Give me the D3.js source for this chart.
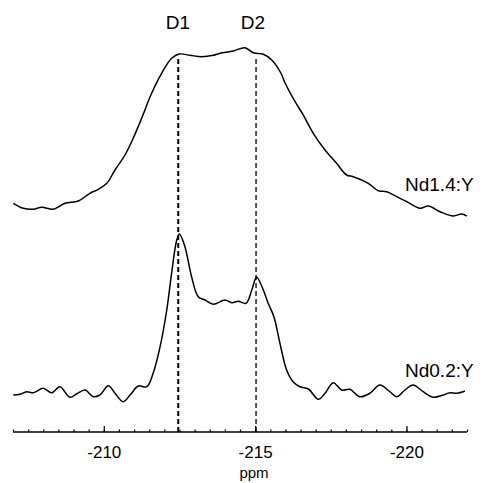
<!DOCTYPE html>
<html>
<head>
<meta charset="utf-8">
<script src="https://cdn.jsdelivr.net/npm/d3@7"></script>
<style>
  html, body { margin: 0; padding: 0; background: #fff; }
  svg { display: block; }
  text { font-family: "Liberation Sans", Arial, sans-serif; fill: #000; }
</style>
</head>
<body>
<svg id="chart" width="489" height="483"></svg>
<script>
// ---- data (ppm, intensity relative to each spectrum's baseline) ----
const ppmNd14 = [-207.01,-207.34,-207.67,-207.95,-208.33,-208.72,-209.16,-209.54,-209.82,-210.10,-210.37,-210.70,-210.97,-211.25,-211.58,-211.91,-212.24,-212.49,-212.85,-213.23,-213.62,-213.84,-214.28,-214.66,-214.94,-215.27,-215.55,-215.85,-215.99,-216.32,-216.59,-216.92,-217.31,-217.69,-218.02,-218.24,-218.74,-219.07,-219.35,-219.68,-220.01,-220.45,-220.72,-221.11,-221.55,-221.82,-221.99];
const intNd14 = [6.7,1.7,0.7,2.7,0.7,6.7,9,16.7,20.7,26.7,40,55,71.7,91.7,116.7,136.7,151.7,156,154.7,153.3,154.7,156.7,159,162.3,157.3,155.7,150,137,127,108.3,95,76.7,60,46.7,35,33.3,26.7,19.3,18.3,13.3,8.3,1.7,4,-1.7,-6,-4,-6];

const ppmNd02 = [-207.01,-207.23,-207.45,-207.67,-208.00,-208.28,-208.55,-208.88,-209.10,-209.38,-209.65,-209.87,-210.15,-210.37,-210.64,-210.87,-211.14,-211.42,-211.63,-211.86,-212.08,-212.24,-212.41,-212.50,-212.68,-212.90,-213.12,-213.34,-213.62,-214.00,-214.23,-214.44,-214.70,-214.89,-215.05,-215.27,-215.43,-215.62,-215.82,-216.04,-216.26,-216.48,-216.76,-217.09,-217.31,-217.58,-217.86,-218.13,-218.46,-218.79,-219.12,-219.45,-219.68,-219.95,-220.22,-220.55,-220.89,-221.22,-221.44,-221.66,-221.93];
const intNd02 = [-2,-1.3,1.3,0.3,4.7,0.3,6.3,-4.3,-1,3,-3.7,-2,7.3,-0.3,-8.7,-2,7,6.3,19.7,46.3,83,119.7,153,159,146.3,116.3,96.3,93,88.7,93,90.3,91.7,89.7,103,115.7,103,89.7,76.3,49.7,23,11,6.3,4,-6.3,-0.3,10.3,3,3.7,-3.7,-0.3,8,1.3,-3.7,3,8,1.3,-4.3,-2,0.3,-0.3,2];

const seriesNames = ["Nd1.4:Y", "Nd0.2:Y"];
const seriesOffsets = [222, 39];           // vertical stacking offsets (intensity units)
const markerPpm = [-212.46, -215.03];
const markerNames = ["D1", "D2"];
const majorTicks = [-210, -215, -220];
const tickLabels = ["-210", "-215", "-220"];
const xLabel = "ppm";

// ---- scales ----
const svg = d3.select("#chart");
const x = d3.scaleLinear().domain([-207, -222]).range([13, 467]);
const y = d3.scaleLinear().domain([0, 400]).range([432, 32]);

const series = [
  ppmNd14.map((p, i) => ({ p, v: intNd14[i] + seriesOffsets[0] })),
  ppmNd02.map((p, i) => ({ p, v: intNd02[i] + seriesOffsets[1] }))
];

const line = d3.line().x(d => x(d.p)).y(d => y(d.v)).curve(d3.curveCatmullRom.alpha(0.5));

// ---- marker dashed lines ----
const markerTop = [59, 59];
svg.selectAll("line.marker").data(markerPpm).join("line")
  .attr("class", "marker")
  .attr("x1", d => x(d)).attr("x2", d => x(d))
  .attr("y1", (d, i) => markerTop[i]).attr("y2", y(0))
  .attr("stroke", "#000")
  .attr("stroke-width", (d, i) => i === 0 ? 2 : 1.3)
  .attr("stroke-dasharray", "5,3");

// ---- spectra ----
svg.selectAll("path.spec").data(series).join("path")
  .attr("class", "spec")
  .attr("d", line)
  .attr("fill", "none")
  .attr("stroke", "#000")
  .attr("stroke-width", 1.5);

// ---- axis ----
const minorVals = d3.range(0, 31).map(k => -207 - k * 0.5);
const axMinor = d3.axisBottom(x).tickValues(minorVals).tickSize(-2.5).tickFormat("");
const gMinor = svg.append("g").attr("transform", `translate(0,${y(0)})`).call(axMinor);
gMinor.select(".domain").attr("stroke-width", 1.5).attr("d", `M${x(-207)},0H${x(-222)}`);
gMinor.selectAll(".tick line").attr("stroke-width", 1.2);

const axMajor = d3.axisBottom(x).tickValues(majorTicks).tickSize(-6)
  .tickFormat((d, i) => tickLabels[i]);
const gMajor = svg.append("g").attr("transform", `translate(0,${y(0)})`).call(axMajor);
gMajor.select(".domain").remove();
gMajor.selectAll(".tick line").attr("stroke-width", 1.2);
gMajor.selectAll(".tick text")
  .attr("y", 26).attr("dy", 0)
  .attr("font-size", 17)
  .attr("font-family", "Liberation Sans, Arial, sans-serif")
  .attr("fill", "#000");

svg.append("text").attr("x", 254).attr("y", 478)
  .attr("text-anchor", "middle").attr("font-size", 15).text(xLabel);

// ---- labels ----
const markerLabelX = [178, 253];
svg.selectAll("text.mk").data(markerNames).join("text")
  .attr("class", "mk")
  .attr("x", (d, i) => markerLabelX[i]).attr("y", 29)
  .attr("text-anchor", "middle").attr("font-size", 19).text(d => d);

const seriesLabelY = [191, 377];
svg.selectAll("text.sn").data(seriesNames).join("text")
  .attr("class", "sn")
  .attr("x", 405).attr("y", (d, i) => seriesLabelY[i])
  .attr("font-size", 19).text(d => d);
</script>
</body>
</html>
